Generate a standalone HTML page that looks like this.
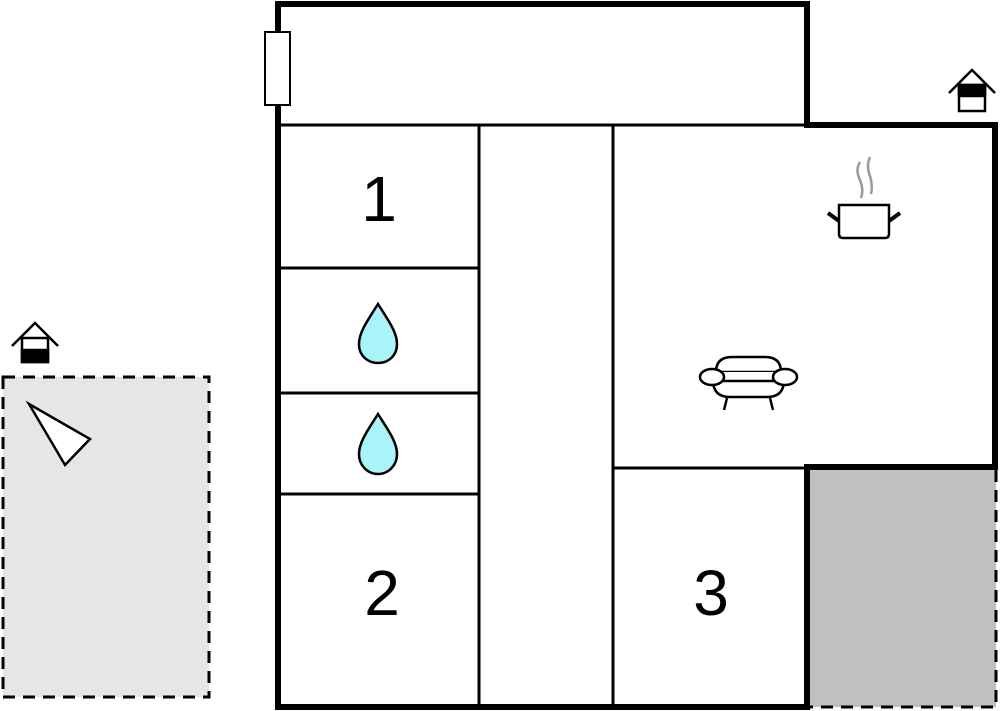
<!DOCTYPE html>
<html><head><style>html,body{margin:0;padding:0;background:#fff;}svg{display:block}</style></head>
<body>
<svg width="1000" height="711" viewBox="0 0 1000 711" xmlns="http://www.w3.org/2000/svg">
<!-- left patio -->
<rect x="3" y="377" width="206" height="320" fill="#e6e6e6" stroke="#000" stroke-width="3" stroke-dasharray="12,8"/>
<!-- right patio -->
<rect x="810" y="470" width="186" height="237" fill="#c0c0c0"/>
<path d="M996 470 V707 H810" fill="none" stroke="#000" stroke-width="3" stroke-dasharray="12,8"/>
<!-- thin inner walls -->
<g stroke="#000" stroke-width="3" fill="none">
<line x1="278" y1="125" x2="995" y2="125"/>
<line x1="479" y1="125" x2="479" y2="707"/>
<line x1="613" y1="125" x2="613" y2="707"/>
<line x1="278" y1="268" x2="479" y2="268"/>
<line x1="278" y1="393" x2="479" y2="393"/>
<line x1="278" y1="494" x2="479" y2="494"/>
<line x1="613" y1="468" x2="810" y2="468"/>
</g>
<!-- thick outer walls -->
<path d="M278 707 V4 H807 V125 H995 V467 H807 V707 Z" fill="none" stroke="#000" stroke-width="6"/>
<!-- door -->
<rect x="265" y="32" width="25" height="73" fill="#fff" stroke="#000" stroke-width="2"/>
<!-- numbers -->
<g font-family="Liberation Sans, sans-serif" font-size="64" text-anchor="middle" fill="#000">
<text x="379" y="221">1</text>
<text x="382" y="615">2</text>
<text x="711" y="615">3</text>
</g>
<!-- droplets -->
<g fill="#a8f4f8" stroke="#000" stroke-width="2.5">
<path d="M378 304 C368 320 359 332 359 344 C359 356 368 363 378 363 C388 363 397 356 397 344 C397 332 388 320 378 304 Z"/>
<path d="M378 414 C368 430 359 442 359 454 C359 466 368 474 378 474 C388 474 397 466 397 454 C397 442 388 430 378 414 Z"/>
</g>
<!-- pot -->
<g stroke="#000" fill="#fff">
<path d="M839 205 H889 V234 Q889 238 885 238 H843 Q839 238 839 234 Z" stroke-width="2.5"/>
<line x1="828" y1="213" x2="839" y2="221" stroke-width="4"/>
<line x1="900" y1="213" x2="889" y2="221" stroke-width="4"/>
</g>
<g stroke="#999" stroke-width="2.5" fill="none">
<path d="M860 162 Q855 170 860 180 Q864 190 861 198"/>
<path d="M870 157 Q866 166 870 176 Q873 186 871 194"/>
</g>
<!-- sofa -->
<g stroke="#000" stroke-width="2.5" fill="#fff">
<path d="M716 372 Q716 357 732 357 H765 Q781 357 781 372 Z"/>
<path d="M713 380 Q713 397 730 397 H767 Q784 397 784 380 Z"/>
<rect x="721" y="372" width="55" height="9" fill="#fff" stroke="none"/>
<line x1="720" y1="381" x2="777" y2="381"/>
<ellipse cx="712" cy="377" rx="12" ry="8"/>
<ellipse cx="785" cy="377" rx="12" ry="8"/>
<line x1="727" y1="398" x2="724" y2="410"/>
<line x1="770" y1="398" x2="773" y2="410"/>
</g>
<!-- house icons -->
<g stroke="#000" stroke-width="2.5" fill="none">
<path d="M949 93 L972 70 L995 93"/>
<rect x="959" y="85" width="26" height="26" fill="#fff"/>
<rect x="959" y="85" width="26" height="11" fill="#000"/>
<path d="M12 346 L35 323 L58 346"/>
<rect x="22" y="338" width="26" height="24" fill="#fff"/>
<rect x="22" y="350" width="26" height="12" fill="#000"/>
</g>
<!-- triangle -->
<polygon points="29,404 90,439 65,465" fill="#fff" stroke="#000" stroke-width="2.5"/>
</svg>
</body></html>
